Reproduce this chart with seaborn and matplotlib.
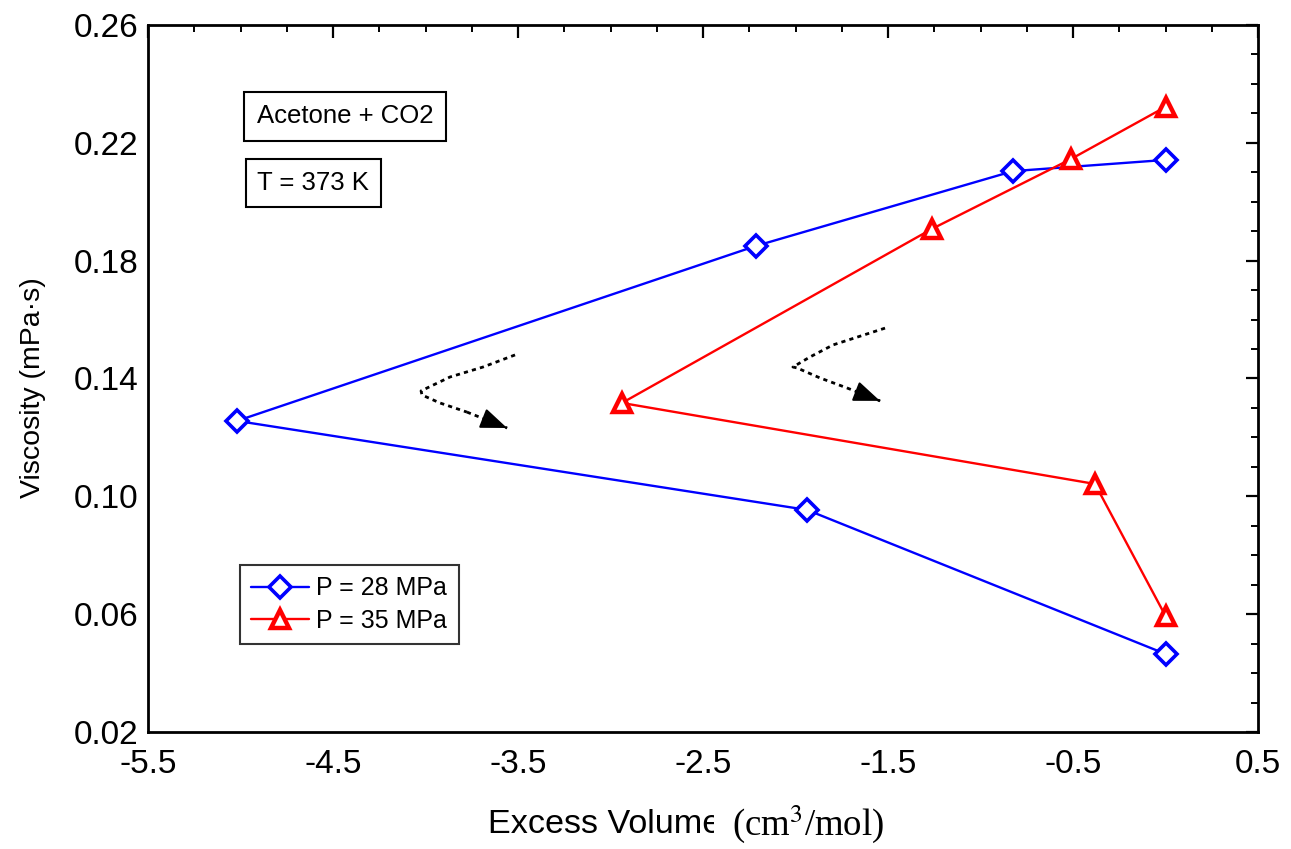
import numpy as np
import pandas as pd
import matplotlib
matplotlib.use("Agg")
import matplotlib.pyplot as plt
import seaborn as sns

# ---- data ----
p28_x = [0.0, -0.824, -2.214, -5.019, -1.938, 0.0]
p28_y = [0.2142, 0.2104, 0.1850, 0.1256, 0.0954, 0.0465]
p35_x = [0.0, -0.511, -1.262, -2.938, -0.381, 0.0]
p35_y = [0.2322, 0.2145, 0.1908, 0.1317, 0.1042, 0.0594]
series_labels = ["P = 28 MPa", "P = 35 MPa"]

arrow1_x = [-3.516, -3.689, -3.868, -4.024, -4.019, -3.922, -3.776, -3.559]
arrow1_y = [0.1480, 0.1439, 0.1405, 0.1358, 0.1344, 0.1317, 0.1286, 0.1232]
arrow2_x = [-1.516, -1.797, -1.922, -2.014, -1.992, -1.868, -1.722, -1.543]
arrow2_y = [0.1571, 0.1514, 0.1473, 0.1439, 0.1436, 0.1402, 0.1368, 0.1324]

x_ticks = [-5.5, -4.5, -3.5, -2.5, -1.5, -0.5, 0.5]
y_ticks = [0.02, 0.06, 0.10, 0.14, 0.18, 0.22, 0.26]

sns.set_style("white")
plt.rcParams['font.family'] = ['Liberation Sans', 'DejaVu Sans']
plt.rcParams['text.color'] = 'black'
plt.rcParams['axes.labelcolor'] = 'black'
plt.rcParams['xtick.color'] = 'black'
plt.rcParams['ytick.color'] = 'black'

fig = plt.figure(figsize=(12.91, 8.49), dpi=100)
ax = fig.add_axes([148/1291, 1-732/849, 1110/1291, 707/849])

df28 = pd.DataFrame({"x": p28_x, "y": p28_y})
df35 = pd.DataFrame({"x": p35_x, "y": p35_y})

sns.lineplot(data=df28, x="x", y="y", sort=False, estimator=None, ax=ax,
             color="#0000ff", lw=1.7, marker="D", markersize=11,
             markerfacecolor="white", markeredgecolor="#0000ff",
             markeredgewidth=2.6, label=series_labels[0])
sns.lineplot(data=df35, x="x", y="y", sort=False, estimator=None, ax=ax,
             color="#ff0000", lw=1.7, marker="^", markersize=12.5,
             markerfacecolor="white", markeredgecolor="#ff0000",
             markeredgewidth=3.2, label=series_labels[1])

# dotted arrows with solid heads
for axs, ays in [(arrow1_x, arrow1_y), (arrow2_x, arrow2_y)]:
    ax.plot(axs[:-1], ays[:-1], color="black", lw=2, linestyle=(0, (1.5, 1.5)))
    ax.plot(axs[-2:], ays[-2:], color="black", lw=2, linestyle=(0, (1.5, 1.5)))
    tail = (axs[-1] - 0.02 * (axs[-1] - axs[-2]), ays[-1] - 0.02 * (ays[-1] - ays[-2]))
    ax.annotate("", xy=(axs[-1], ays[-1]), xytext=tail,
                arrowprops=dict(arrowstyle="-|>,head_length=0.9,head_width=0.35",
                                color="black", lw=1.5,
                                shrinkA=0, shrinkB=0, mutation_scale=18))

ax.set_xlim(-5.5, 0.5)
ax.set_ylim(0.02, 0.26)
ax.set_xticks(x_ticks)
ax.set_xticklabels([f"{v:g}" for v in x_ticks])
ax.set_yticks(y_ticks)
ax.set_yticklabels([f"{v:.2f}" for v in y_ticks])
ax.set_xticks(np.arange(-5.5, 0.51, 0.25), minor=True)
ax.set_yticks(np.arange(0.02, 0.2601, 0.01), minor=True)
ax.tick_params(which="major", direction="in", length=9, width=1.6,
               top=True, right=True, labelsize=24, colors="black")
ax.tick_params(which="minor", direction="in", length=5, width=1.4,
               top=True, right=True)
ax.tick_params(axis="x", which="major", pad=12)
ax.tick_params(axis="y", which="major", pad=7)
for s in ax.spines.values():
    s.set_visible(True)
    s.set_color("black")
    s.set_linewidth(2)

ax.set_xlabel("")
ax.set_ylabel("Viscosity (mPa·s)", fontsize=20.5, labelpad=12)
ax.yaxis.set_label_coords(-0.092, 0.487)

# x label: sans part partly covered by the serif part
fig.text(488/1291, 1-833/849, "Excess Volume", fontsize=24.6, ha="left",
         va="baseline", family=['Liberation Sans', 'DejaVu Sans'])
fig.text(732/1291, 1-835/849, "(cm$^{3}$/mol)", fontsize=26.5, ha="left",
         va="baseline", family=['Liberation Serif', 'DejaVu Serif'],
         math_fontfamily="stix",
         bbox=dict(boxstyle="square,pad=0.5", fc="white", ec="none"))

# info boxes
ax.text(0.1775, 0.871, "Acetone + CO2", transform=ax.transAxes, fontsize=18.5,
        ha="center", va="center",
        bbox=dict(boxstyle="square,pad=0.48", fc="white", ec="black", lw=1.5))
ax.text(0.149, 0.7765, "T = 373 K", transform=ax.transAxes, fontsize=18.5,
        ha="center", va="center",
        bbox=dict(boxstyle="square,pad=0.45", fc="white", ec="black", lw=1.5))

leg = ax.legend(loc="upper left", bbox_to_anchor=(0.083, 0.236),
                borderaxespad=0, fontsize=18, frameon=True, fancybox=False,
                handlelength=2.3, handletextpad=0.3, borderpad=0.45,
                labelspacing=0.35)
leg.get_frame().set_edgecolor("black")
leg.get_frame().set_linewidth(1.5)

fig.savefig("out.png", dpi=100)
